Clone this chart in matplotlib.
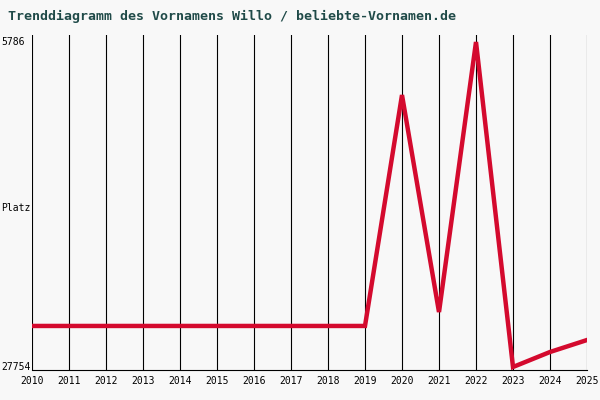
import matplotlib
matplotlib.use('Agg')
import matplotlib.pyplot as plt

# Data
years = list(range(2010, 2026))
ranks = [24980, 24980, 24980, 24980, 24980, 24980, 24980, 24980, 24980, 24980,
         9370, 24040, 5786, 27754, 26740, 25930]
ytick_vals = [5786, 27754]
ytick_labels = ['5786', '27754']

TITLE = 'Trenddiagramm des Vornamens Willo / beliebte-Vornamen.de'
LINE_COLOR = '#d40a2e'
TEXT_COLOR = '#1f4a48'
MONO = 'DejaVu Sans Mono'

fig = plt.figure(figsize=(6, 4), dpi=100, facecolor='#f8f8f8')
ax = fig.add_axes([32 / 600, 30 / 400, 555 / 600, 335 / 400])
ax.set_facecolor('#f8f8f8')

for y in years:
    ax.axvline(y, color='black', linewidth=0.8, zorder=1)

ax.plot(years, ranks, color=LINE_COLOR, linewidth=3.2, solid_joinstyle='miter', zorder=3)

ax.set_xlim(years[0], years[-1])
ax.set_ylim(27957, 5313)
ax.set_xticks(years)
ax.set_xticklabels([str(y) for y in years], fontsize=7, family=MONO)
ax.set_yticks(ytick_vals)
ax.set_yticklabels([])
ax.tick_params(length=0, pad=4)

for s in ['top', 'right', 'left']:
    ax.spines[s].set_visible(False)
ax.spines['bottom'].set_color('black')

fig.text(1 / 600, 1 - 42 / 400, ytick_labels[0], fontsize=7, family=MONO, va='center', ha='left')
fig.text(1 / 600, 1 - 367 / 400, ytick_labels[1], fontsize=7, family=MONO, va='center', ha='left')
fig.text(1 / 600, 1 - 208 / 400, 'Platz', fontsize=7, family=MONO, va='center', ha='left')
fig.text(8 / 600, 1 - 16 / 400, TITLE, fontsize=9.5, family=MONO, color=TEXT_COLOR,
         fontweight='bold', va='center', ha='left')

fig.savefig('out.png', dpi=100, facecolor=fig.get_facecolor())
